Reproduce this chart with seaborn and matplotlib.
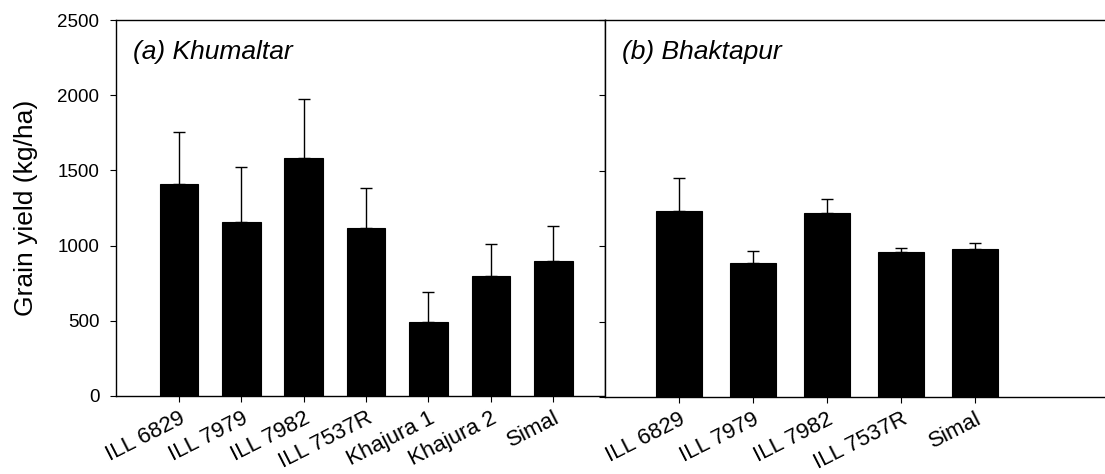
import matplotlib
matplotlib.use("Agg")
import matplotlib.pyplot as plt
import seaborn as sns
import numpy as np
import pandas as pd

sns.set_theme(style="white")
plt.rcParams['font.family'] = ['Liberation Sans', 'DejaVu Sans']
plt.rcParams['text.color'] = 'black'
plt.rcParams['axes.labelcolor'] = 'black'
plt.rcParams['xtick.color'] = 'black'
plt.rcParams['ytick.color'] = 'black'

# Data
cultivars_a = ["ILL 6829", "ILL 7979", "ILL 7982", "ILL 7537R", "Khajura 1", "Khajura 2", "Simal"]
yield_a = [1410, 1157, 1580, 1119, 494, 800, 895]
se_a = [345, 366, 393, 266, 200, 213, 237]

cultivars_b = ["ILL 6829", "ILL 7979", "ILL 7982", "ILL 7537R", "Simal"]
yield_b = [1234, 886, 1217, 964, 982]
se_b = [217, 83, 97, 22, 40]

yticks = [0, 500, 1000, 1500, 2000, 2500]

fig = plt.figure(figsize=(11.05, 4.74), dpi=100)
axA = fig.add_axes([0.105, 0.1646, 0.4425, 0.7932])
axB = fig.add_axes([0.5475, 0.1625, 0.4525, 0.7953])

def panel(ax, cats, vals, ses, label, xlim):
    df = pd.DataFrame({"cultivar": cats, "yield": vals})
    sns.barplot(data=df, x="cultivar", y="yield", color="black", width=0.62,
                edgecolor="black", linewidth=0.8, ax=ax, saturation=1)
    xs = np.arange(len(cats))
    ax.errorbar(xs, vals, yerr=[np.zeros(len(ses)), ses], fmt="none",
                ecolor="black", elinewidth=1.0, capsize=4.5, capthick=1.0)
    ax.set_xlim(*xlim)
    ax.set_ylim(0, 2500)
    ax.set_yticks(yticks)
    ax.set_xlabel("")
    ax.set_xticks(xs)
    ax.set_xticklabels(cats, rotation=27, ha="right", rotation_mode="anchor",
                       fontsize=16, color="black")
    ax.tick_params(axis="both", direction="out", length=4.5, width=0.8,
                   color="black", labelcolor="black", bottom=True, left=True)
    ax.tick_params(axis="x", pad=4)
    ax.tick_params(axis="y", pad=7.5)
    for s in ax.spines.values():
        s.set_color("black")
        s.set_linewidth(1.0)
    ax.text(0.035, 0.915, label, transform=ax.transAxes, fontsize=19,
            fontstyle="italic", va="center", ha="left", color="black")

panel(axA, cultivars_a, yield_a, se_a, "(a) Khumaltar", (-1.01, 6.83))
panel(axB, cultivars_b, yield_b, se_b, "(b) Bhaktapur", (-1.0, 5.75))

axA.set_ylabel("Grain yield (kg/ha)", fontsize=19, labelpad=14, color="black")
axA.set_yticklabels([str(t) for t in yticks], fontsize=13.5, color="black")
axB.set_ylabel("")
axB.set_yticklabels([])
axB.spines["right"].set_visible(False)

fig.savefig("out.png", dpi=100)
